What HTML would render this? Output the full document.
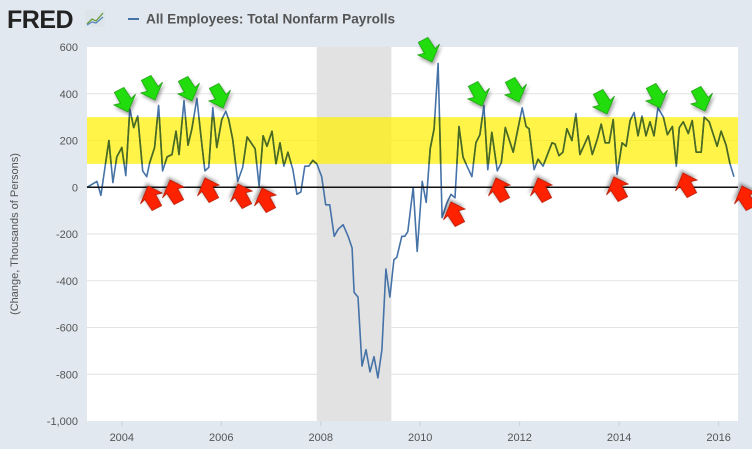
<!DOCTYPE html>
<html><head><meta charset="utf-8"><style>
html,body{margin:0;padding:0;background:#e1e8f0;}
svg{display:block;font-family:"Liberation Sans",sans-serif;}
</style></head><body>
<svg id="chart" width="752" height="449">
<defs>
<clipPath id="bandClip"><rect id="bandClipRect"/></clipPath>
<filter id="sh" x="-30%" y="-30%" width="160%" height="160%"><feDropShadow dx="1.5" dy="2" stdDeviation="1.2" flood-color="#000" flood-opacity="0.35"/></filter>
</defs>
<rect x="0" y="0" width="752" height="449" fill="#e1e8f0"/>
<g>
<text x="7" y="28" font-size="25" font-weight="bold" fill="#222" letter-spacing="-0.5">FRED</text>
<rect x="85" y="10" width="20" height="17" fill="#dde4ea"/>
<polyline points="87,24 92,19 96,21 103,13" fill="none" stroke="#6a9a3a" stroke-width="1.3"/>
<polyline points="87,25 92,22 96,23 103,17" fill="none" stroke="#5a8ac0" stroke-width="1.3"/>
</g>
<line x1="128" y1="19" x2="139" y2="19" stroke="#4572a7" stroke-width="2"/>
<text x="146" y="23.5" font-size="13.6" font-weight="bold" fill="#555">All Employees: Total Nonfarm Payrolls</text>
<rect x="87" y="47" width="651" height="374" fill="#fff"/>
<g id="grid"></g>
<g id="rec"></g>
<rect id="band" fill="rgba(255,240,0,0.72)"/>
<g id="series"></g>
<line id="zero" stroke="#111" stroke-width="1.5"/>
<g id="ylab"></g>
<g id="xlab"></g>
<text transform="translate(18,234) rotate(-90)" text-anchor="middle" font-size="11" fill="#555">(Change, Thousands of Persons)</text>
<g id="arrows"></g>
</svg>
<script>
const dates=[2003.30,2003.50,2003.58,2003.74,2003.82,2003.90,2004.00,2004.08,2004.16,2004.24,2004.32,2004.42,2004.50,2004.56,2004.66,2004.74,2004.82,2004.91,2005.01,2005.09,2005.15,2005.25,2005.33,2005.41,2005.51,2005.59,2005.67,2005.75,2005.83,2005.91,2006.01,2006.09,2006.15,2006.23,2006.33,2006.43,2006.52,2006.68,2006.76,2006.84,2006.92,2007.02,2007.10,2007.18,2007.26,2007.34,2007.44,2007.52,2007.60,2007.68,2007.76,2007.84,2007.92,2008.02,2008.10,2008.18,2008.27,2008.35,2008.45,2008.55,2008.63,2008.67,2008.75,2008.83,2008.91,2008.99,2009.07,2009.15,2009.23,2009.31,2009.39,2009.47,2009.53,2009.63,2009.69,2009.75,2009.86,2009.94,2010.04,2010.12,2010.20,2010.28,2010.36,2010.44,2010.54,2010.62,2010.70,2010.78,2010.86,2010.94,2011.04,2011.12,2011.20,2011.28,2011.36,2011.44,2011.55,2011.63,2011.71,2011.87,2012.05,2012.13,2012.19,2012.29,2012.37,2012.47,2012.65,2012.71,2012.79,2012.87,2012.95,2013.05,2013.13,2013.21,2013.38,2013.46,2013.56,2013.64,2013.72,2013.80,2013.88,2013.96,2014.06,2014.14,2014.22,2014.30,2014.38,2014.46,2014.54,2014.62,2014.70,2014.78,2014.89,2014.97,2015.07,2015.15,2015.21,2015.29,2015.39,2015.47,2015.55,2015.65,2015.71,2015.81,2015.97,2016.05,2016.15,2016.23,2016.31,2016.39];
const values=[0,25,-35,200,20,130,170,50,335,255,305,70,45,105,170,350,70,130,140,240,140,370,180,250,380,220,70,85,340,170,290,325,290,205,25,85,215,165,5,220,175,240,100,190,90,150,75,-30,-20,90,90,115,100,45,-75,-75,-210,-180,-160,-210,-260,-450,-470,-765,-695,-790,-725,-815,-695,-350,-470,-310,-300,-210,-210,-190,0,-275,25,-65,165,250,530,-130,-65,-30,-45,260,130,90,45,190,225,350,75,235,70,105,255,150,340,260,250,75,120,90,190,185,135,150,250,200,315,140,220,140,205,270,190,190,290,55,190,175,285,320,220,305,220,280,220,340,300,225,260,90,255,280,230,285,150,150,300,280,175,240,180,100,45];
const yTicks=[600,400,200,0,-200,-400,-600,-800,-1000];
const yTickLabels=["600","400","200","0","-200","-400","-600","-800","-1,000"];
const xTicks=[2004,2006,2008,2010,2012,2014,2016];
const recession=[2007.92,2009.42];
const band=[100,300];
const NS="http://www.w3.org/2000/svg";
const X0=87,X1=738,Y0=47,Y1=421,D0=2003.30,D1=2016.39;
const xs=d=>X0+(d-D0)/(D1-D0)*(X1-X0);
const ys=v=>Y0+(600-v)/1600*(Y1-Y0);
function mk(tag,attrs,parent){const e=document.createElementNS(NS,tag);for(const k in attrs)e.setAttribute(k,attrs[k]);document.getElementById(parent).appendChild(e);return e;}
yTicks.forEach((t,i)=>{
  if(t!==600&&t!==-1000){const l=mk('line',{x1:X0,x2:X1,y1:ys(t),y2:ys(t),stroke:'#e3e3e3','stroke-width':1},'grid');
  
  }
  const tx=mk('text',{x:78,y:ys(t)+4,'text-anchor':'end','font-size':11,fill:'#555'},'ylab');
  tx.textContent=yTickLabels[i];
  
  
});
xTicks.forEach(t=>{
  const l=mk('line',{x1:xs(t),x2:xs(t),y1:Y1,y2:Y1+5,stroke:'#c8d2dc'},'xlab');
  
  
  const tx=mk('text',{x:xs(t),y:441,'text-anchor':'middle','font-size':11,fill:'#555'},'xlab');
  tx.textContent=String(t);
  
  
});
const r=mk('rect',{x:xs(recession[0]),y:Y0,width:xs(recession[1])-xs(recession[0]),height:Y1-Y0,fill:'#e2e2e2'},'rec');


const b=document.getElementById('band');
b.setAttribute('x',X0);b.setAttribute('width',X1-X0);b.setAttribute('y',ys(band[1]));b.setAttribute('height',ys(band[0])-ys(band[1]));
const cr=document.getElementById('bandClipRect');
cr.setAttribute('x',X0);cr.setAttribute('width',X1-X0);cr.setAttribute('y',ys(band[1]));cr.setAttribute('height',ys(band[0])-ys(band[1]));
const pts=dates.map((d,i)=>xs(d).toFixed(1)+','+ys(values[i]).toFixed(1)).join(' ');
const p=mk('polyline',{points:pts,fill:'none',stroke:'#4572a7','stroke-width':1.6,'stroke-linejoin':'round'},'series');


const p2=mk('polyline',{points:pts,fill:'none',stroke:'#4a6a1c','stroke-width':1.6,'stroke-linejoin':'round','clip-path':'url(#bandClip)'},'series');


const z=document.getElementById('zero');
z.setAttribute('x1',X0);z.setAttribute('x2',X1);z.setAttribute('y1',ys(0));z.setAttribute('y2',ys(0));
const greens=[[128,112],[155,100],[192,101],[223,108],[432,62],[482,106],[519,102],[607,114],[660,108],[705,111]];
const reds=[[148,186],[170,180],[205,178],[238,184],[262,188],[451,202],[496,178],[538,178],[614,177],[683,173],[742,186]];
const arrowPts="0,0 -12,-4 -7,-6 -13,-14 -6,-19 1,-11 4,-15";
greens.forEach(([x,y])=>{
  const a=mk('polygon',{points:arrowPts,transform:`translate(${x},${y}) rotate(8) scale(1.25)`,fill:'#22dd11',stroke:'#1a9a10','stroke-width':0.6,filter:'url(#sh)'},'arrows');
  
  
});
reds.forEach(([x,y])=>{
  const a=mk('polygon',{points:arrowPts,transform:`translate(${x},${y}) rotate(188) scale(1.25)`,fill:'#ff2200',stroke:'#b01800','stroke-width':0.6,filter:'url(#sh)'},'arrows');
  
  
});
</script>
</body></html>
